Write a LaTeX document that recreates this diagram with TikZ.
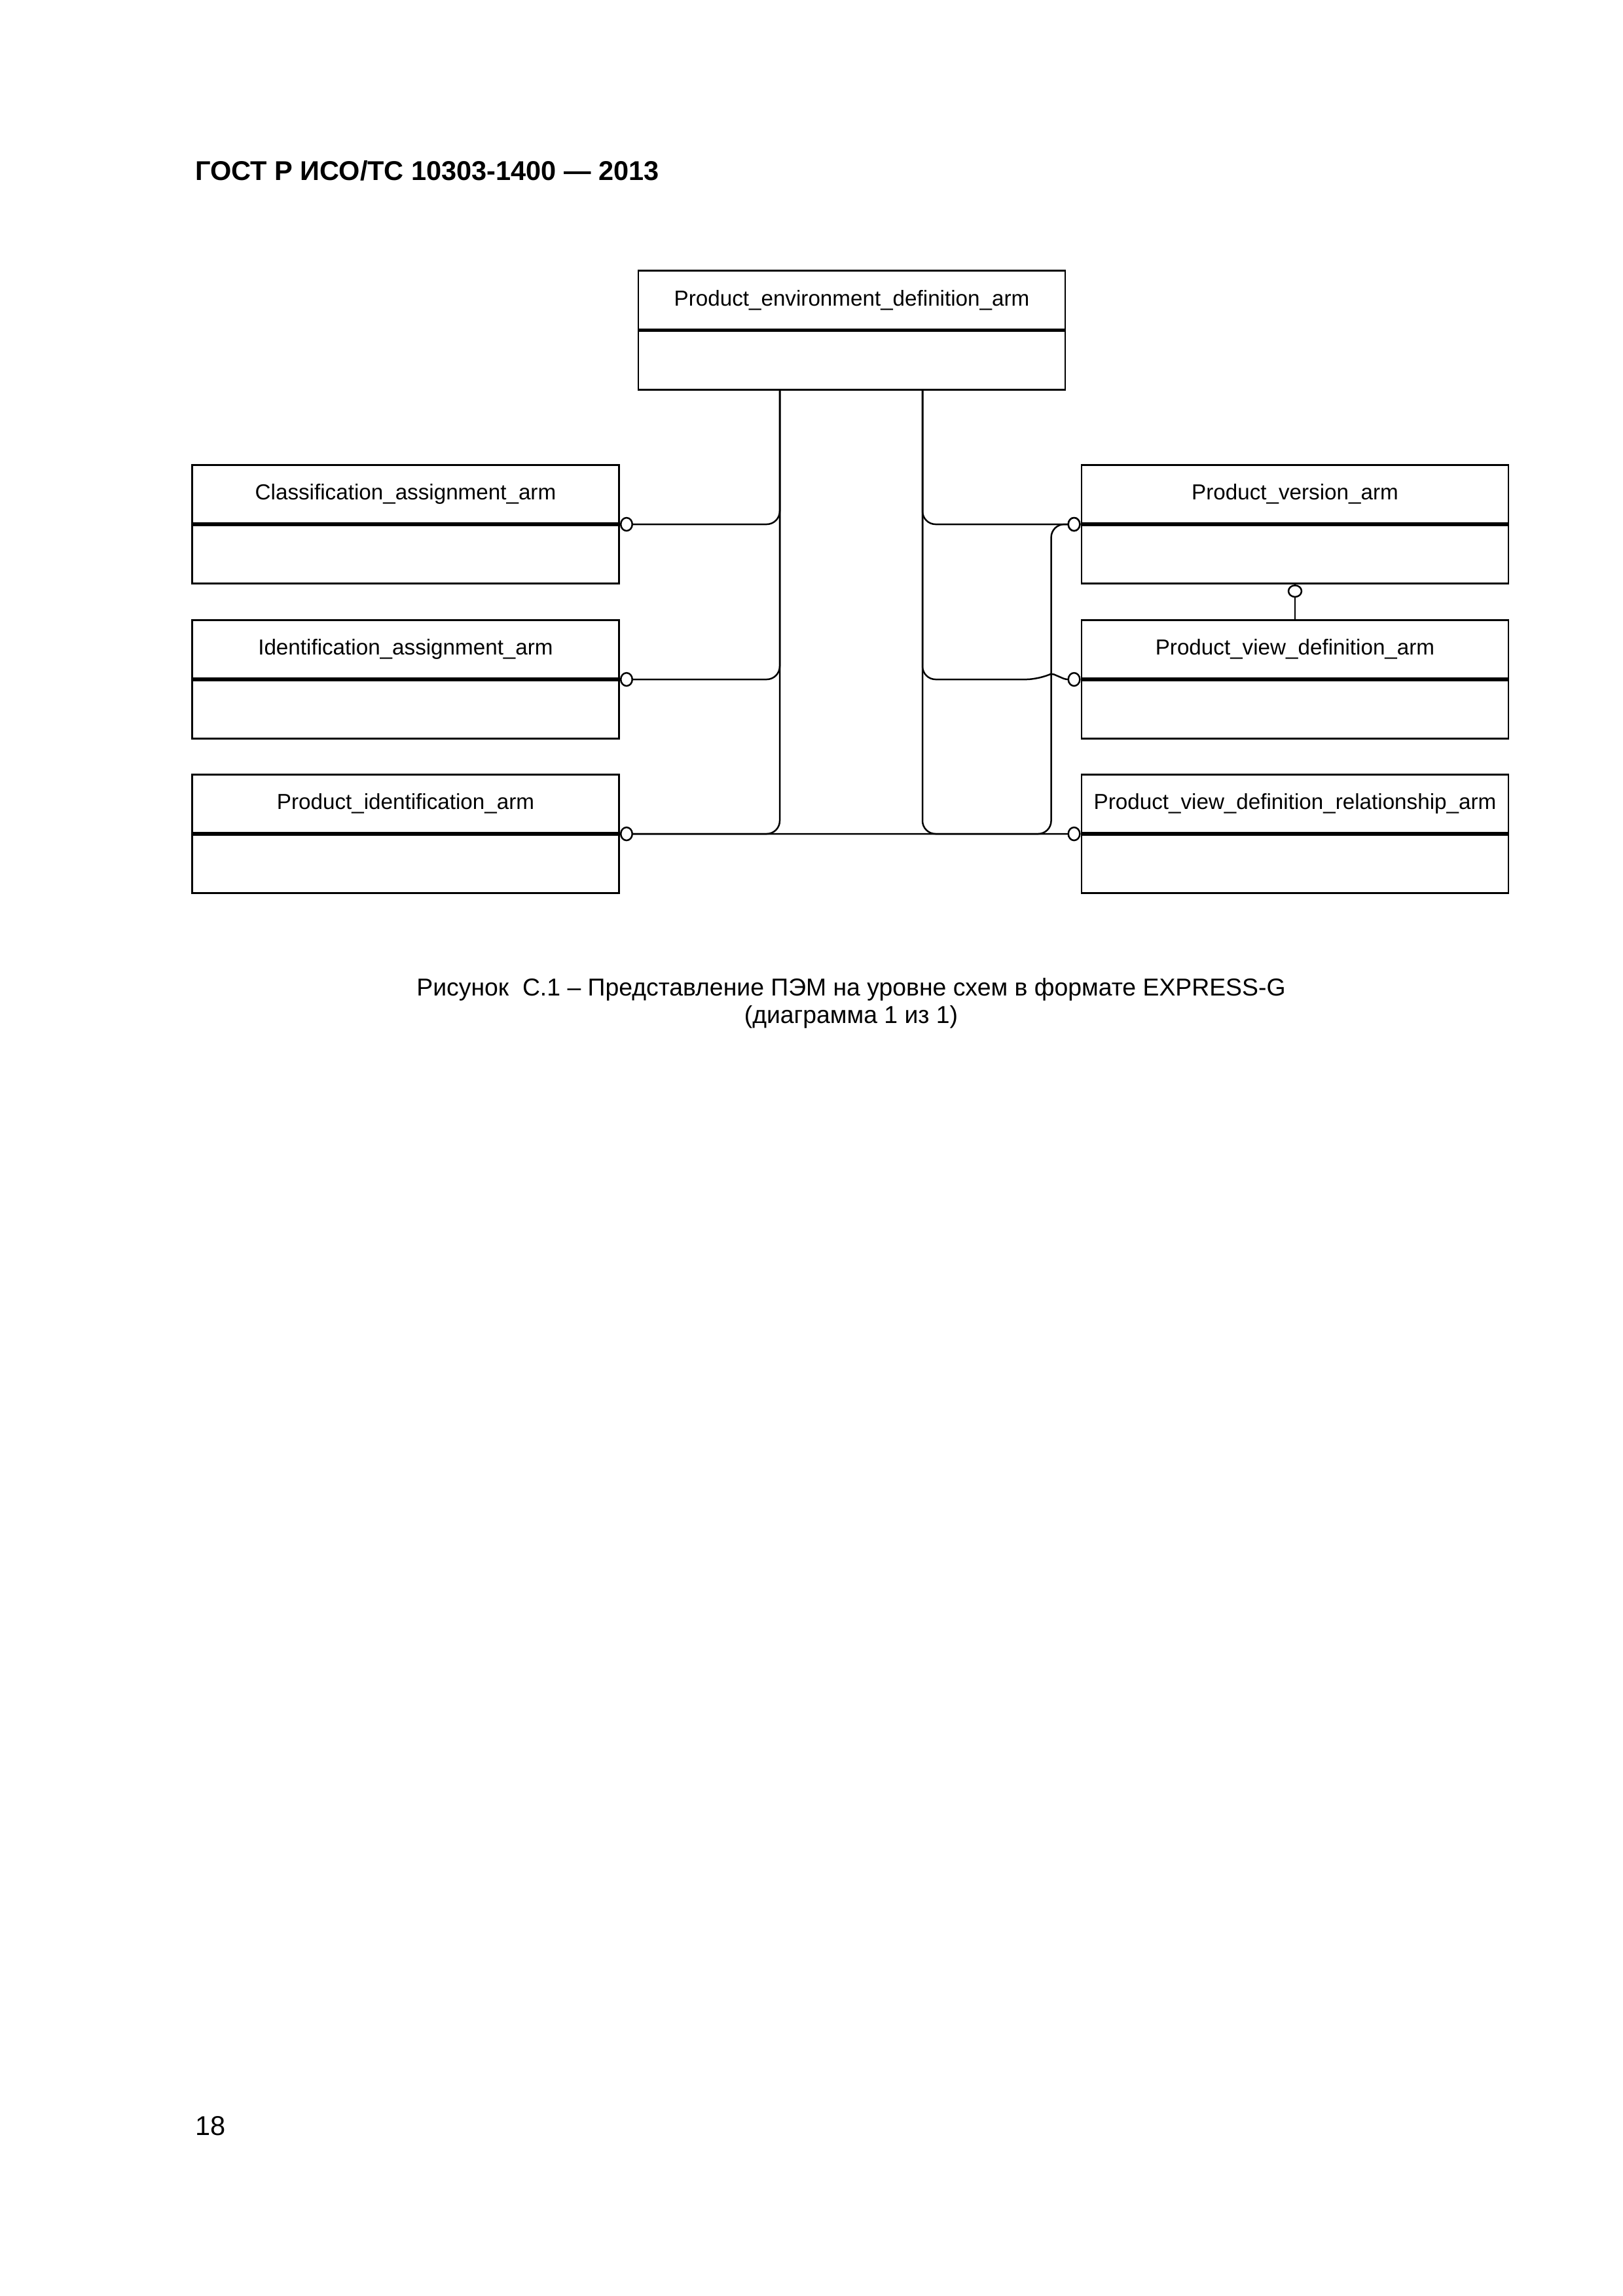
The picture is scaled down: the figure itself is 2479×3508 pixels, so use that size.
\documentclass[tikz,border=0pt]{standalone}
\usepackage{fontspec}
\setmainfont{Liberation Sans}
\usetikzlibrary{arrows.meta}

\begin{document}
\begin{tikzpicture}[x=0.0846667mm,y=-0.0846667mm,
  entity/.style={draw,line width=0.7pt,minimum width=55.2mm,minimum height=7.55mm,inner sep=0pt,font=\fontsize{8}{9.6}\selectfont},
  attrs/.style={entity,anchor=north},
  link/.style={line width=0.6pt,rounded corners=1.7mm,-{Circle[fill=white,length=1.7mm,width=1.9mm]}}]
\path[use as bounding box] (0,0) rectangle (2479,3508);
\node[anchor=base west,font=\bfseries\fontsize{10}{12}\selectfont] (title) at (284,275) {ГОСТ Р ИСО/ТС 10303-1400 — 2013};
\node[entity] (ped) at (1301,458.5) {Product\_environment\_definition\_arm};
\node[attrs] (pedL) at (ped.south) {};
\node[entity] (cls) at (619.5,755) {Classification\_assignment\_arm};
\node[attrs] (clsL) at (cls.south) {};
\node[entity] (idn) at (619.5,992) {Identification\_assignment\_arm};
\node[attrs] (idnL) at (idn.south) {};
\node[entity] (pid) at (619.5,1228) {Product\_identification\_arm};
\node[attrs] (pidL) at (pid.south) {};
\node[entity] (pver) at (1978,755) {Product\_version\_arm};
\node[attrs] (pverL) at (pver.south) {};
\node[entity] (pvd) at (1978,992) {Product\_view\_definition\_arm};
\node[attrs] (pvdL) at (pvd.south) {};
\node[entity] (pvdr) at (1978,1228) {Product\_view\_definition\_relationship\_arm};
\node[attrs] (pvdrL) at (pvdr.south) {};
\draw[link] (pid.south east) -| ([shift={(-45,0)}]pver.south west) -- (pver.south west);
\draw[link] ([shift={(-110,0)}]pedL.south) |- (cls.south east);
\draw[link] ([shift={(-110,0)}]pedL.south) |- (idn.south east);
\draw[link] ([shift={(-110,0)}]pedL.south) |- (pid.south east);
\draw[link] ([shift={(108,0)}]pedL.south) |- (pver.south west);
\draw[link] ([shift={(108,0)}]pedL.south) |- ([shift={(-63,0)}]pvd.south west) [rounded corners=0.3mm] -- ++(19,-9) -- ++(21,9) -- (pvd.south west);
\draw[link] ([shift={(108,0)}]pedL.south) |- (pvdr.south west);
\draw[link] (pvd.north) -- (pverL.south);
\node[align=center,font=\fontsize{9}{10.2}\selectfont] (cap) at (1300,1533) {Рисунок~~С.1 – Представление ПЭМ на уровне схем в формате EXPRESS-G\\(диаграмма 1 из 1)};
\node[anchor=base west,font=\fontsize{10}{12}\selectfont] (page) at (284,3262) {18};
\end{tikzpicture}
\end{document}
